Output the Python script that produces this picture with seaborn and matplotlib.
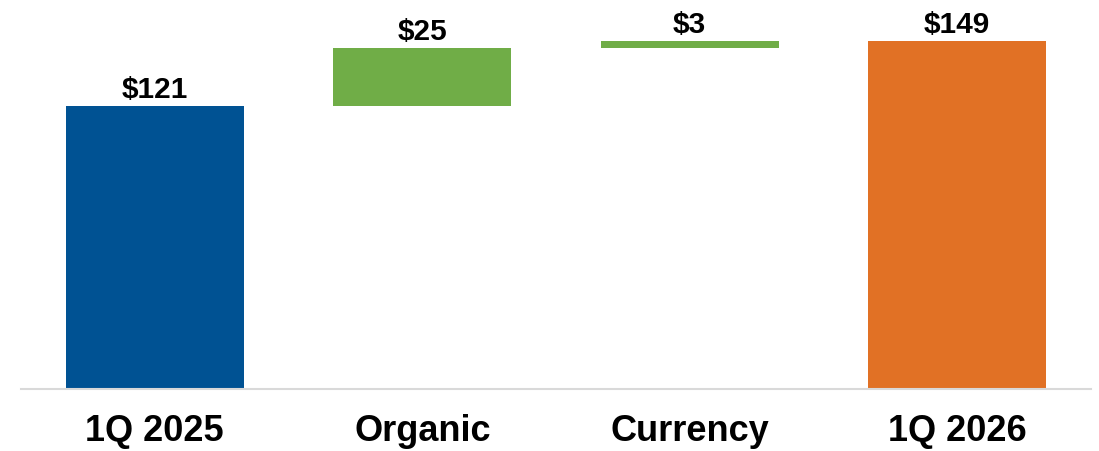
import matplotlib
matplotlib.use("Agg")
import matplotlib.pyplot as plt
import seaborn as sns

# --- Dados do gráfico (waterfall) ---
categorias = ["1Q 2025", "Organic", "Currency", "1Q 2026"]
valores = [121, 25, 3, 149]
bases = [0, 121, 146, 0]
rotulos = ["$121", "$25", "$3", "$149"]
cores = ["#005293", "#70AD47", "#70AD47", "#E17125"]

sns.set_theme(style="white")
plt.rcParams["font.family"] = ["Liberation Sans", "DejaVu Sans"]

fig = plt.figure(figsize=(10.99, 4.51), dpi=100)
ax = fig.add_axes([21 / 1099, 62 / 451, 1070 / 1099, 374 / 451])

sns.barplot(x=categorias, y=valores, bottom=bases, width=0.665,
            color=cores[0], saturation=1, ax=ax)
for patch, cor in zip(ax.patches, cores):
    patch.set_facecolor(cor)
    patch.set_edgecolor("none")

ax.bar_label(ax.containers[0], labels=rotulos, padding=1.5,
             fontsize=21.5, fontweight="bold", color="black")

ax.set_xlim(-0.5, 3.5)
ax.set_ylim(0, 160)
ax.set_yticks([])
ax.set_xlabel("")
ax.set_ylabel("")
for lado in ["top", "left", "right"]:
    ax.spines[lado].set_visible(False)
ax.spines["bottom"].set_color("#D9D9D9")
ax.spines["bottom"].set_linewidth(1.5)
ax.tick_params(axis="x", length=0, pad=18, labelsize=26, labelcolor="black")
for lbl in ax.get_xticklabels():
    lbl.set_fontweight("bold")

fig.savefig("out.png", dpi=100, facecolor="white")
